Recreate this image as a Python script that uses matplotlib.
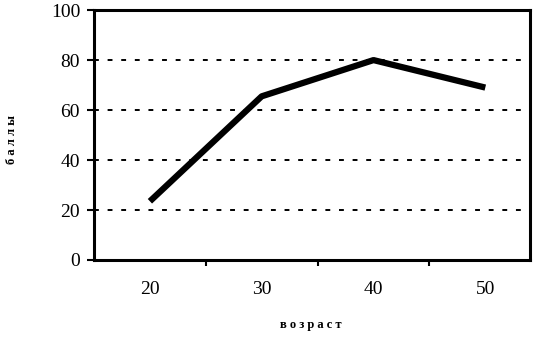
import matplotlib
matplotlib.use("Agg")
import matplotlib.pyplot as plt

# data
ages = ["20", "30", "40", "50"]
scores = [23.5, 65.5, 80, 69]
y_ticks = [0, 20, 40, 60, 80, 100]

fig = plt.figure(figsize=(5.45, 3.37), dpi=100)
ax = fig.add_axes([0.1725, 0.2285, 0.8, 0.7415])

pos = list(range(len(ages)))
ax.plot(pos, scores, color="black", lw=4.5, solid_capstyle="butt", zorder=3)

ax.set_xlim(-0.5, 3.4)
ax.set_ylim(0, 100)
ax.set_yticks(y_ticks)
ax.set_yticklabels([str(v) for v in y_ticks], family="Liberation Serif", fontsize=14)
for v in y_ticks[1:-1]:
    ax.axhline(v, color="black", lw=1.4, ls=(0, (2.5, 4.5)), zorder=1)

# category ticks at the boundaries, labels in the middle
ax.set_xticks([p + 0.5 for p in pos[:-1]])
ax.set_xticklabels([])
ax.set_xticks(pos, minor=True)
ax.set_xticklabels(ages, minor=True, family="Liberation Serif", fontsize=14)
ax.tick_params(axis="x", which="minor", length=0, pad=15)
ax.tick_params(axis="x", which="major", length=4, width=1.5, direction="out")
ax.tick_params(axis="y", length=5, width=1.5, direction="out", pad=5)

for s in ax.spines.values():
    s.set_linewidth(2.2)

fig.text(0.57, 1 - 325 / 337, "в о з р а с т", family="Liberation Serif",
         fontsize=9, fontweight="bold", ha="center", va="center")
fig.text(12 / 545, 1 - 140 / 337, "б а л л ы", family="Liberation Serif",
         fontsize=9, fontweight="bold", ha="center", va="center", rotation=90)

fig.savefig("out.png", dpi=100)
